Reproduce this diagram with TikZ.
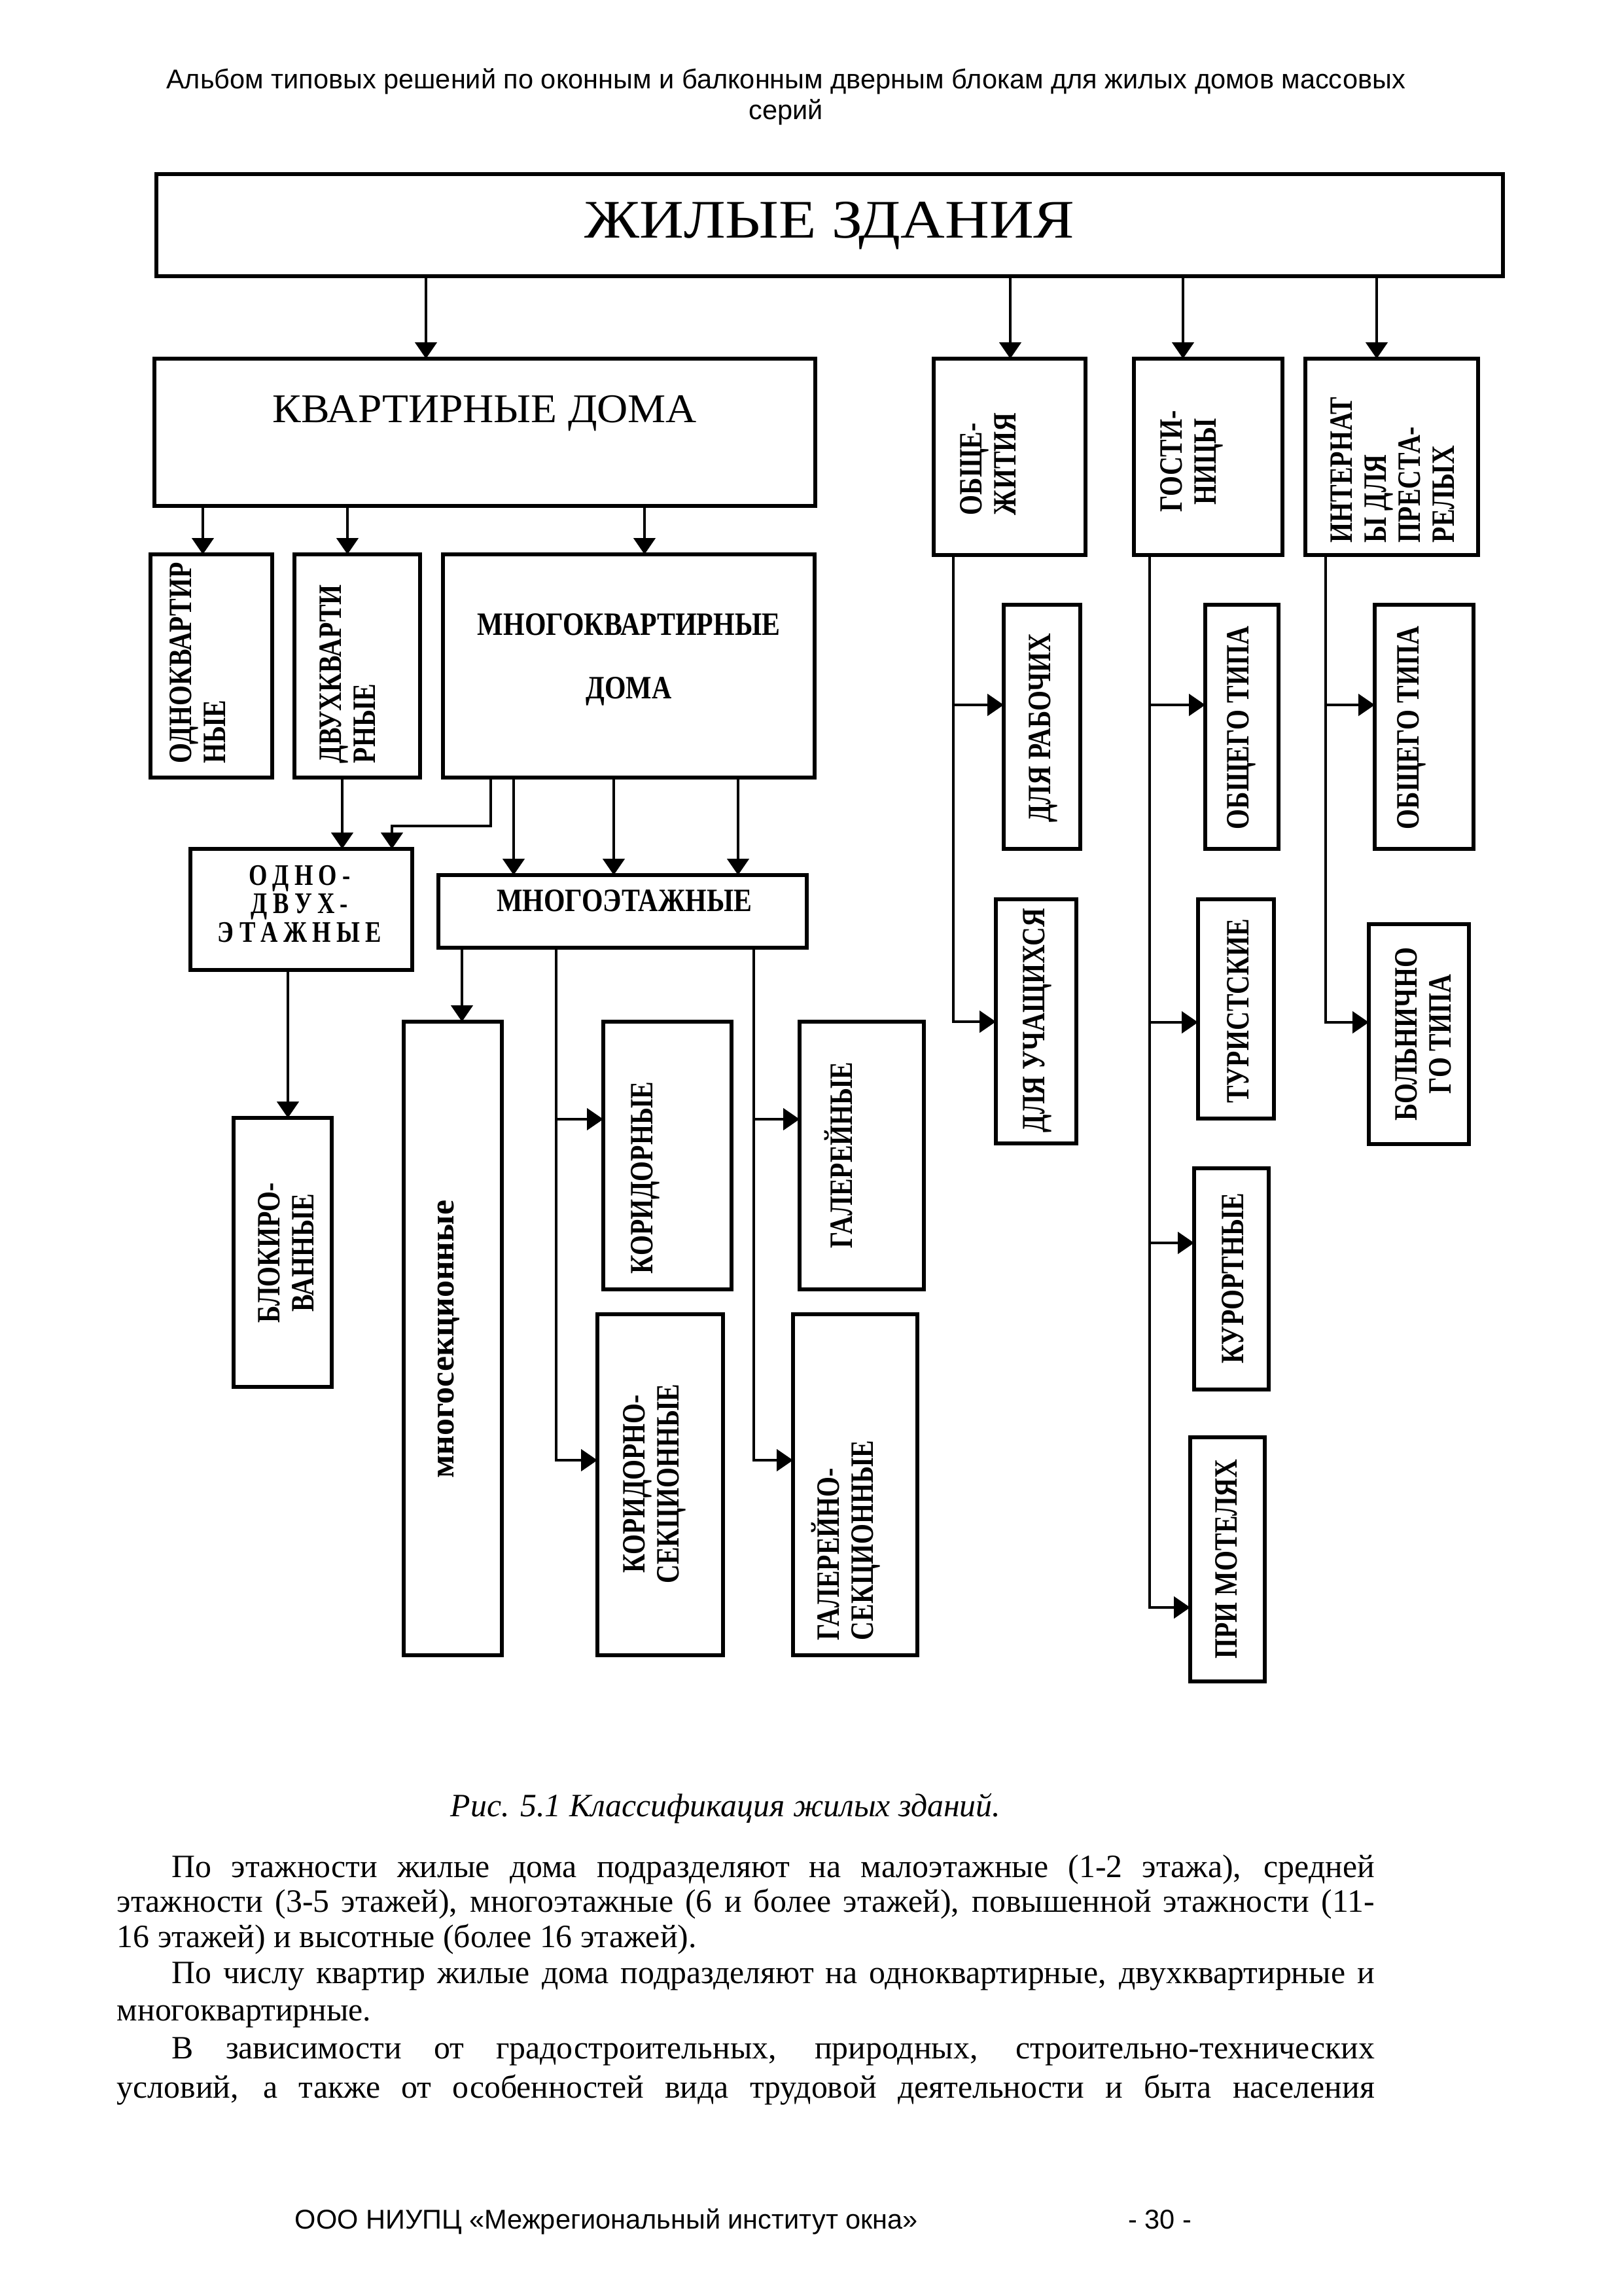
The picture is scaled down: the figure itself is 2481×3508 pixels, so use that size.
\documentclass[tikz,border=0pt]{standalone}
\usepackage{fontspec}
\setmainfont{Liberation Serif}
\newfontfamily\hdrfont{Liberation Sans}
\newfontfamily\condfont[FakeStretch=0.8]{Liberation Serif}
\newfontfamily\hcondfont[FakeStretch=0.84]{Liberation Serif}
\newfontfamily\titlefont[FakeStretch=1.13]{Liberation Serif}
\newfontfamily\subtitlefont[FakeStretch=1.05]{Liberation Serif}
\usetikzlibrary{arrows.meta}
\newcommand\lsp{\hspace{2pt}}
\newcommand\bx[5]{\node[box, minimum width={(#4-#2)*0.0084643cm}, minimum height={(#5-#3)*0.0084643cm}] (#1) at ({(#2+#4)/2},{(#3+#5)/2}) {};}
\begin{document}
\begin{tikzpicture}[x=0.0084643cm, y=-0.0084643cm,
  box/.style={draw, line width=1.3pt, inner sep=0pt, outer sep=0pt},
  lbl/.style={font=\condfont\bfseries\fontsize{12}{12.5}\selectfont, inner sep=0pt},
  hlbl/.style={font=\hcondfont\bfseries\fontsize{12}{12.5}\selectfont, inner sep=0pt},
  rl/.style={lbl, rotate=90},
  ln/.style={line width=0.9pt},
  arr/.style={line width=0.9pt, -{Triangle[length=6pt,width=8pt]}},
  hdr/.style={font=\hdrfont\fontsize{10}{11.5}\selectfont, inner sep=0pt},
  body/.style={font=\fontsize{12}{13.8}\selectfont, inner sep=0pt, anchor=base west}]
\useasboundingbox (0,0) rectangle (2481,3508);
\fill[white] (0,0) rectangle (2481,3508);

% header
\node[hdr, anchor=base] (h1) at (1201,135) {Альбом типовых решений по оконным и балконным дверным блокам для жилых домов массовых};
\node[hdr, anchor=base] (h2) at (1201,182) {серий};

% boxes
\bx{zh}{239}{266}{2297}{422}
\bx{kd}{236}{548}{1246}{773}
\bx{odnokv}{230}{847}{416}{1188}
\bx{dvukh}{450}{847}{642}{1188}
\bx{mnogokv}{677}{847}{1245}{1188}
\bx{odnodv}{291}{1297}{630}{1482}
\bx{mnogoet}{670}{1337}{1233}{1448}
\bx{blok}{357}{1708}{507}{2119}
\bx{mnsek}{617}{1561}{767}{2529}
\bx{korid}{922}{1561}{1118}{1970}
\bx{korsek}{913}{2008}{1105}{2529}
\bx{galer}{1222}{1561}{1412}{1970}
\bx{galsek}{1212}{2008}{1402}{2529}
\bx{obshch}{1427}{548}{1659}{848}
\bx{gost}{1733}{548}{1960}{848}
\bx{internat}{1995}{548}{2259}{848}
\bx{dlrab}{1534}{924}{1651}{1297}
\bx{dluch}{1522}{1374}{1645}{1747}
\bx{gobsh}{1842}{924}{1954}{1297}
\bx{tur}{1831}{1374}{1947}{1709}
\bx{kur}{1825}{1785}{1939}{2123}
\bx{mot}{1819}{2196}{1933}{2569}
\bx{iobsh}{2101}{924}{2252}{1297}
\bx{boln}{2092}{1412}{2245}{1748}

% texts
\node[font=\titlefont\fontsize{20}{24}\selectfont, inner sep=0pt] (t_zh) at (1268,345) {ЖИЛЫЕ ЗДАНИЯ};
\node[font=\subtitlefont\fontsize{15}{18}\selectfont, inner sep=0pt] (t_kd) at (741,632) {КВАРТИРНЫЕ ДОМА};
\node[rl, align=left, anchor=west] (t_odnokv) at (302,1167) {ОДНОКВАРТИР\\НЫЕ};
\node[rl, align=left, anchor=west] (t_dvukh) at (531,1167) {ДВУХКВАРТИ\\РНЫЕ};
\node[hlbl, align=center] (t_mnogokv) at (961,1008) {МНОГОКВАРТИРНЫЕ\\[11pt]ДОМА};
\node[lbl, font=\condfont\bfseries\fontsize{11}{10.5}\selectfont, align=center] (t_odnodv) at (458,1381) {О\lsp Д\lsp Н\lsp О\lsp -\\Д\lsp В\lsp У\lsp Х\lsp -\\Э\lsp Т\lsp А\lsp Ж\lsp Н\lsp Ы\lsp Е};
\node[hlbl] (t_mnogoet) at (954,1376) {МНОГОЭТАЖНЫЕ};
\node[rl, align=center] (t_blok) at (437,1914) {БЛОКИРО-\\ВАННЫЕ};
\node[rl, font=\bfseries\fontsize{12.5}{13}\selectfont] (t_mnsek) at (686,2046) {многосекционные};
\node[rl] (t_korid) at (986,1800) {КОРИДОРНЫЕ};
\node[rl, align=center] (t_korsek) at (1000,2267) {КОРИДОРНО-\\СЕКЦИОННЫЕ};
\node[rl] (t_galer) at (1282,1765) {ГАЛЕРЕЙНЫЕ};
\node[rl, align=left, anchor=west] (t_galsek) at (1293,2507) {ГАЛЕРЕЙНО-\\СЕКЦИОННЫЕ};
\node[rl, align=left, anchor=west] (t_obshch) at (1510,788) {ОБЩЕ-\\ЖИТИЯ};
\node[rl, align=center] (t_gost) at (1821,705) {ГОСТИ-\\НИЦЫ};
\node[rl, align=left, anchor=west] (t_int) at (2128,830) {ИНТЕРНАТ\\Ы ДЛЯ\\ПРЕСТА-\\РЕЛЫХ};
\node[rl] (t_dlrab) at (1594,1112) {ДЛЯ РАБОЧИХ};
\node[rl] (t_dluch) at (1585,1559) {ДЛЯ УЧАЩИХСЯ};
\node[rl] (t_gobsh) at (1897,1112) {ОБЩЕГО ТИПА};
\node[rl] (t_tur) at (1892,1545) {ТУРИСТСКИЕ};
\node[rl] (t_kur) at (1884,1953) {КУРОРТНЫЕ};
\node[rl] (t_mot) at (1874,2382) {ПРИ МОТЕЛЯХ};
\node[rl] (t_iobsh) at (2157,1112) {ОБЩЕГО ТИПА};
\node[rl, align=center] (t_boln) at (2175,1580) {БОЛЬНИЧНО\\ГО ТИПА};

% connector x/y positions
\coordinate (a1) at (651,0);
\coordinate (a2) at (1544,0);
\coordinate (a3) at (1808,0);
\coordinate (a4) at (2104,0);
\coordinate (b1) at (310,0);
\coordinate (b2) at (531,0);
\coordinate (b3) at (985,0);
\coordinate (c1) at (523,0);
\coordinate (c2) at (750,1262);
\coordinate (c3) at (599,1262);
\coordinate (d1) at (785,0);
\coordinate (d2) at (938,0);
\coordinate (d3) at (1128,0);
\coordinate (e1) at (440,0);
\coordinate (e2) at (706,0);
\coordinate (k1) at (850,1710);
\coordinate (k2) at (850,2231);
\coordinate (g1) at (1152,1710);
\coordinate (g2) at (1152,2231);
\coordinate (o1) at (1457,1077);
\coordinate (o2) at (1457,1561);
\coordinate (s1) at (1757,1077);
\coordinate (s2) at (1757,1562);
\coordinate (s3) at (1757,1899);
\coordinate (s4) at (1757,2456);
\coordinate (i1) at (2026,1077);
\coordinate (i2) at (2026,1562);

% connectors
\draw[arr] (zh.south -| a1) -- (kd.north -| a1);
\draw[arr] (zh.south -| a2) -- (obshch.north -| a2);
\draw[arr] (zh.south -| a3) -- (gost.north -| a3);
\draw[arr] (zh.south -| a4) -- (internat.north -| a4);
\draw[arr] (kd.south -| b1) -- (odnokv.north -| b1);
\draw[arr] (kd.south -| b2) -- (dvukh.north -| b2);
\draw[arr] (kd.south -| b3) -- (mnogokv.north -| b3);
\draw[arr] (dvukh.south -| c1) -- (odnodv.north -| c1);
\draw[arr] (mnogokv.south -| c2) -- (c2) -- (c3) -- (odnodv.north -| c3);
\draw[arr] (mnogokv.south -| d1) -- (mnogoet.north -| d1);
\draw[arr] (mnogokv.south -| d2) -- (mnogoet.north -| d2);
\draw[arr] (mnogokv.south -| d3) -- (mnogoet.north -| d3);
\draw[arr] (odnodv.south -| e1) -- (blok.north -| e1);
\draw[arr] (mnogoet.south -| e2) -- (mnsek.north -| e2);
\draw[arr] (mnogoet.south -| k2) -- (k2) -- (korsek.west |- k2);
\draw[arr] (k1) -- (korid.west |- k1);
\draw[arr] (mnogoet.south -| g2) -- (g2) -- (galsek.west |- g2);
\draw[arr] (g1) -- (galer.west |- g1);
\draw[arr] (obshch.south -| o2) -- (o2) -- (dluch.west |- o2);
\draw[arr] (o1) -- (dlrab.west |- o1);
\draw[arr] (gost.south -| s4) -- (s4) -- (mot.west |- s4);
\draw[arr] (s1) -- (gobsh.west |- s1);
\draw[arr] (s2) -- (tur.west |- s2);
\draw[arr] (s3) -- (kur.west |- s3);
\draw[arr] (internat.south -| i2) -- (i2) -- (boln.west |- i2);
\draw[arr] (i1) -- (iobsh.west |- i1);

% caption and body text
\node[font=\itshape\fontsize{12}{14}\selectfont, inner sep=0pt, anchor=base] (cap) at (1109,2775) {Рис. 5.1 Классификация жилых зданий.};
\node[body] (p1) at (262,2868) {\makebox[15.566cm][s]{По этажности жилые дома подразделяют на малоэтажные (1-2 этажа), средней}};
\node[body] (p2) at (178,2921) {\makebox[16.277cm][s]{этажности (3-5 этажей), многоэтажные (6 и более этажей), повышенной этажности (11-}};
\node[body] (p3) at (178,2975) {16 этажей) и высотные (более 16 этажей).};
\node[body] (p4) at (262,3030) {\makebox[15.566cm][s]{По числу квартир жилые дома подразделяют на одноквартирные, двухквартирные и}};
\node[body] (p5) at (178,3087) {многоквартирные.};
\node[body] (p6) at (262,3145) {\makebox[15.566cm][s]{В зависимости от градостроительных, природных, строительно-технических}};
\node[body] (p7) at (178,3205) {\makebox[16.277cm][s]{условий, а также от особенностей вида трудовой деятельности и быта населения}};

% footer
\node[hdr, anchor=base west] (f1) at (450,3405) {ООО НИУПЦ «Межрегиональный институт окна»};
\node[hdr, anchor=base] (f2) at (1773,3405) {- 30 -};
\end{tikzpicture}
\end{document}
